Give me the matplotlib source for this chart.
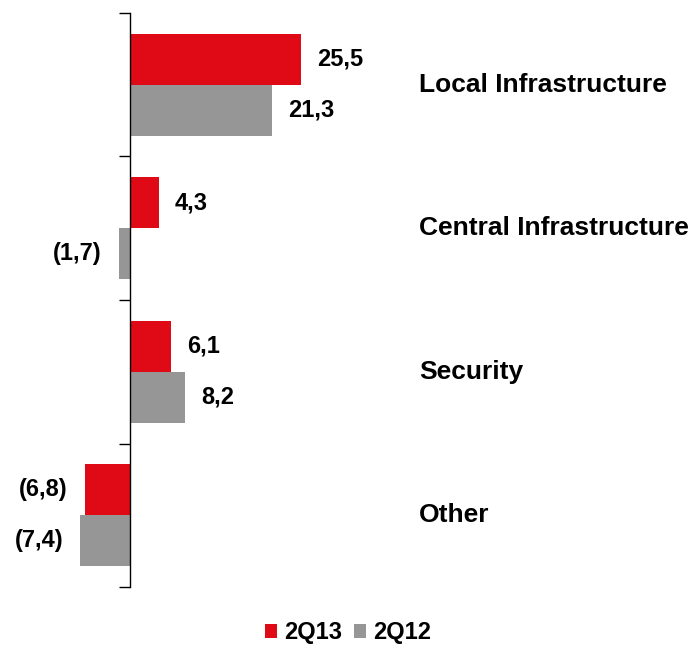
import matplotlib
matplotlib.use("Agg")
import matplotlib.pyplot as plt
from matplotlib.patches import Patch
import numpy as np

plt.rcParams['font.family'] = ['Liberation Sans', 'DejaVu Sans']

categories = ["Local Infrastructure", "Central Infrastructure", "Security", "Other"]
series_names = ["2Q13", "2Q12"]
values_2q13 = [25.5, 4.3, 6.1, -6.8]
values_2q12 = [21.3, -1.7, 8.2, -7.4]
colors = ["#E00A16", "#969696"]

W, H = 695, 645
fig = plt.figure(figsize=(W / 100, H / 100), dpi=100)

# axes geometry in pixels
px_per_unit = 6.69
zero_px = 130
ax_left_px, ax_right_px = 40, 410
ax_top_px, ax_bot_px = 12.7, 587.3
ax = fig.add_axes([ax_left_px / W, 1 - ax_bot_px / H,
                   (ax_right_px - ax_left_px) / W, (ax_bot_px - ax_top_px) / H])
ax.set_xlim((ax_left_px - zero_px) / px_per_unit, (ax_right_px - zero_px) / px_per_unit)
n = len(categories)
ax.set_ylim(n, 0)

bar_h = 0.355
centers = np.arange(n) + 0.5
for vals, col, off in [(values_2q13, colors[0], -bar_h / 2), (values_2q12, colors[1], bar_h / 2)]:
    ax.barh(centers + off, vals, height=bar_h, color=col, edgecolor='none')
    for y, v in zip(centers + off, vals):
        txt = f"{abs(v):.1f}".replace('.', ',')
        if v < 0:
            txt = f"({txt})"
            ax.text(v - 2.5, y, txt, ha='right', va='center', fontsize=17,
                    fontweight='bold', color='black')
        else:
            ax.text(v + 2.4, y, txt, ha='left', va='center', fontsize=17,
                    fontweight='bold', color='black')

# category names to the right
label_x = (419 - zero_px) / px_per_unit
for c, name in zip(centers, categories):
    ax.text(label_x, c, name, ha='left', va='center', fontsize=19,
            fontweight='bold', color='black', clip_on=False)

for s in ['top', 'right', 'bottom']:
    ax.spines[s].set_visible(False)
ax.spines['left'].set_position(('data', 0))
ax.spines['left'].set_color('black')
ax.spines['left'].set_linewidth(1.0)
ax.set_yticks(np.arange(n + 1))
ax.set_yticklabels([])
ax.tick_params(axis='y', direction='out', length=8, width=1.0, color='black')
ax.set_xticks([])

handles = [Patch(facecolor=colors[0], edgecolor='none'),
           Patch(facecolor=colors[1], edgecolor='none')]
fig.legend(handles, series_names, loc='center', bbox_to_anchor=(348 / W, 1 - 633 / H),
           ncol=2, frameon=False, handlelength=0.5, handleheight=0.5,
           handletextpad=0.3, columnspacing=0.5,
           prop={'weight': 'bold', 'size': 17})

fig.savefig("out.png", dpi=100)
